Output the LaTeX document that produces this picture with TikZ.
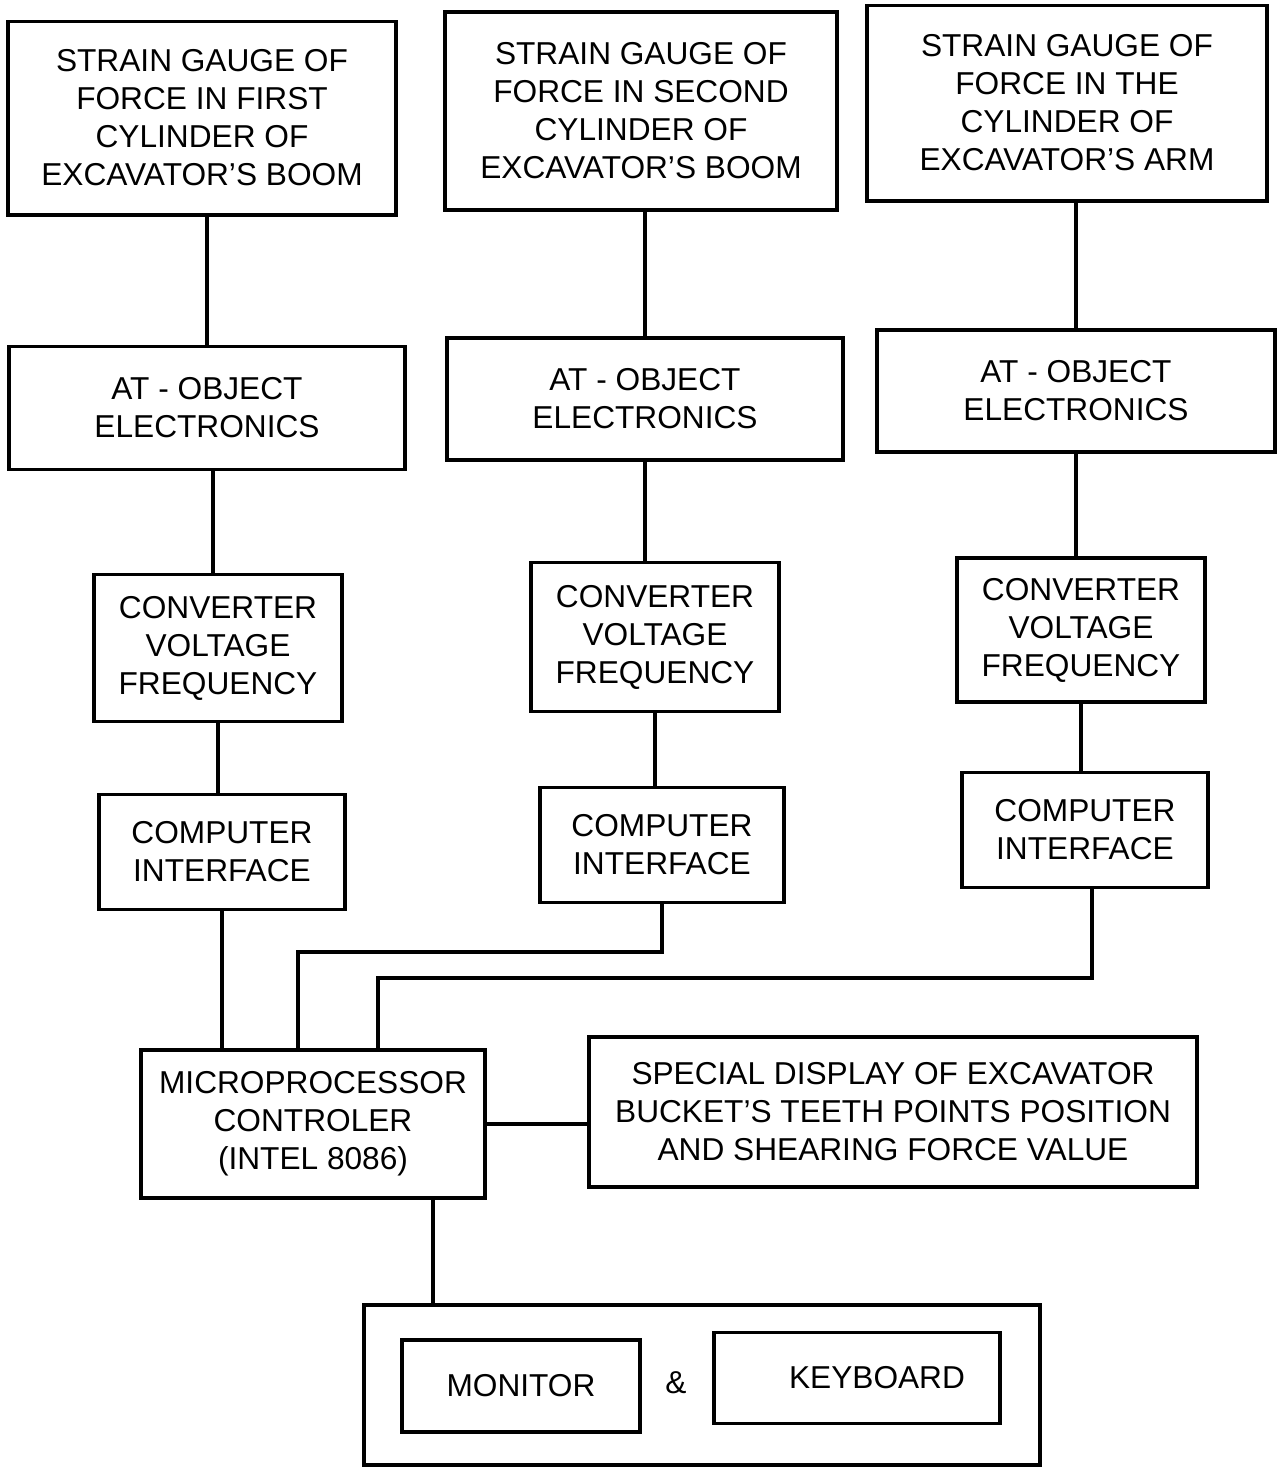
\documentclass[tikz,border=0pt]{standalone}
\usepackage{fontspec}
\setmainfont{Liberation Sans}
\usepackage{tikz}
\usetikzlibrary{positioning}

\begin{document}
\begin{tikzpicture}[
    x=0.01cm, y=-0.01cm,
    block/.style={draw, line width=1.1pt, align=center, inner sep=2pt,
      font=\fontsize{9}{10.8}\selectfont},
    wire/.style={line width=1.1pt}]

\useasboundingbox (0,0) rectangle (1277,1468);

% Strain gauges
\node[block, minimum width=3.88cm, minimum height=1.93cm] (b1) at (202,118)
  {STRAIN GAUGE OF\\FORCE IN FIRST\\CYLINDER OF\\EXCAVATOR’S BOOM};
\node[block, minimum width=3.91cm, minimum height=1.98cm] (b2) at (641,111)
  {STRAIN GAUGE OF\\FORCE IN SECOND\\CYLINDER OF\\EXCAVATOR’S BOOM};
\node[block, minimum width=3.99cm, minimum height=1.95cm] (b3) at (1067,103)
  {STRAIN GAUGE OF\\FORCE IN THE\\CYLINDER OF\\EXCAVATOR’S ARM};

% AT - object electronics
\node[block, minimum width=3.95cm, minimum height=1.23cm] (a1) at (207,408)
  {AT - OBJECT\\ELECTRONICS};
\node[block, minimum width=3.95cm, minimum height=1.22cm] (a2) at (645,399)
  {AT - OBJECT\\ELECTRONICS};
\node[block, minimum width=3.98cm, minimum height=1.22cm] (a3) at (1076,391)
  {AT - OBJECT\\ELECTRONICS};

% Converters
\node[block, minimum width=2.47cm, minimum height=1.47cm] (c1) at (218,648)
  {CONVERTER\\VOLTAGE\\FREQUENCY};
\node[block, minimum width=2.47cm, minimum height=1.49cm] (c2) at (655,637)
  {CONVERTER\\VOLTAGE\\FREQUENCY};
\node[block, minimum width=2.48cm, minimum height=1.44cm] (c3) at (1081,630)
  {CONVERTER\\VOLTAGE\\FREQUENCY};

% Interfaces
\node[block, minimum width=2.45cm, minimum height=1.15cm] (i1) at (222,852)
  {COMPUTER\\INTERFACE};
\node[block, minimum width=2.44cm, minimum height=1.15cm] (i2) at (662,845)
  {COMPUTER\\INTERFACE};
\node[block, minimum width=2.45cm, minimum height=1.15cm] (i3) at (1085,830)
  {COMPUTER\\INTERFACE};

% Controller and displays
\node[block, minimum width=3.43cm, minimum height=1.48cm] (mp) at (313,1124)
  {MICROPROCESSOR\\CONTROLER\\(INTEL 8086)};
\node[block, minimum width=6.07cm, minimum height=1.5cm] (sd) at (893,1112)
  {SPECIAL DISPLAY OF EXCAVATOR\\BUCKET’S TEETH POINTS POSITION\\AND SHEARING FORCE VALUE};
\node[block, minimum width=6.75cm, minimum height=1.6cm] (io) at (702,1385) {};
\node[block, minimum width=2.37cm, minimum height=0.92cm] (mon) at (521,1386) {MONITOR};
\node[block, minimum width=2.86cm, minimum height=0.91cm] (kb) at (857,1378) {\hspace*{0.4cm}KEYBOARD};
\node[font=\fontsize{9}{10.8}\selectfont] (amp) at (676,1383) {\&};

% Columns
\draw[wire] (a1.north) -- (a1.north |- b1.south);
\draw[wire] (a2.north) -- (a2.north |- b2.south);
\draw[wire] (a3.north) -- (a3.north |- b3.south);
\draw[wire] ([xshift=0.06cm]a1.south) -- ([xshift=0.06cm]a1.south |- c1.north);
\draw[wire] (a2.south) -- (a2.south |- c2.north);
\draw[wire] (a3.south) -- (a3.south |- c3.north);
\draw[wire] (c1.south) -- (c1.south |- i1.north);
\draw[wire] (c2.south) -- (c2.south |- i2.north);
\draw[wire] (c3.south) -- (c3.south |- i3.north);

% Into the controller
\coordinate (j2) at (298,952);
\coordinate (j3) at (378,978);
\draw[wire] (i1.south) -- (i1.south |- mp.north);
\draw[wire] (i2.south) |- (j2) -- (j2 |- mp.north);
\draw[wire] ([xshift=0.07cm]i3.south) |- (j3) -- (j3 |- mp.north);
\draw[wire] (mp.east) -- (mp.east -| sd.west);
\draw[wire] ([xshift=1.2cm]mp.south) -- ([xshift=1.2cm]mp.south |- io.north);
\end{tikzpicture}
\end{document}
